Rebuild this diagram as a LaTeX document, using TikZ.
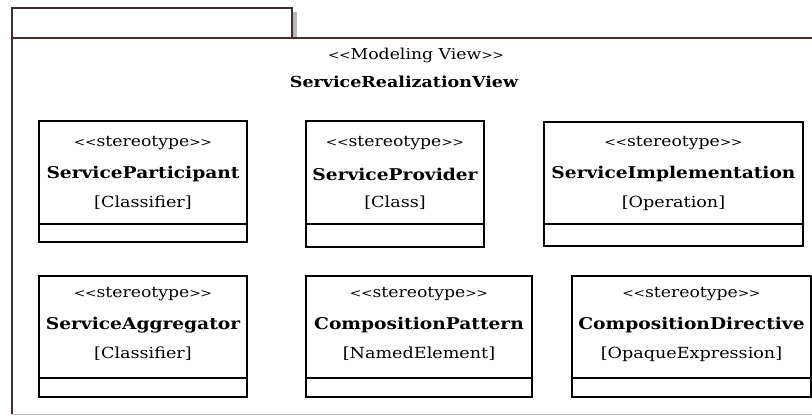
\documentclass[tikz,border=0pt]{standalone}
\usepackage{fontspec}
\setmainfont{DejaVu Serif}
\newfontfamily\labelfont[FakeStretch=1.15]{DejaVu Serif}
\definecolor{framec}{HTML}{4A2A2A}
\definecolor{framelow}{HTML}{C9B9B9}
\definecolor{shadowc}{HTML}{B8B8B8}
% guillemet-free double angle brackets
\newcommand{\openst}{{\fontsize{12}{12}\selectfont<\kern-0.5pt<}}
\newcommand{\closest}{{\fontsize{12}{12}\selectfont>\kern-0.5pt>}}
\begin{document}
\begin{tikzpicture}[x=1pt,y=-1pt,
  framestyle/.style={draw=framec,line width=1.4pt},
  classbox/.style={draw=black,line width=1.4pt},
  stereo/.style={font=\labelfont\fontsize{15}{17}\selectfont,inner sep=0pt},
  cname/.style={font=\labelfont\fontsize{16.2}{18}\bfseries\selectfont,inner sep=0pt},
  ctype/.style={font=\labelfont\fontsize{15.3}{17}\selectfont,inner sep=0pt}]
\useasboundingbox (0,0) rectangle (812,416);
% package tab with its shadow
\fill[shadowc] (293,12) rectangle (297,38);
\draw[framestyle] (12,38) -- (12,8) -- (292,8) -- (292,38);
% package body
\draw[framestyle] (812,38) -- (12,38) -- (12,414);
\draw[framelow,line width=1.2pt] (12,414.5) -- (812,414.5);
% package title
\node[stereo] (vst) at (416,55) {\openst Modeling View\closest};
\node[cname,font=\labelfont\fontsize{15.2}{17}\bfseries\selectfont] (vname) at (404,82) {ServiceRealizationView};
% stereotype box: #1 name, #2 left, #3 top, #4 right, #5 bottom, #6 divider,
% #7 first text line, #8 class name, #9 metaclass
\newcommand{\stbox}[9]{%
  \draw[classbox] (#2,#3) rectangle (#4,#5);
  \draw[classbox] (#2,#6) -- (#4,#6);
  \node[stereo] (#1-s) at ({(#2+#4)/2},#7) {\openst stereotype\closest};
  \node[cname] (#1-n) at ({(#2+#4)/2},#7+31) {#8};
  \node[ctype] (#1-t) at ({(#2+#4)/2},#7+60) {[#9]};
}
\stbox{sp}{39}{121}{247}{242}{224}{143}{ServiceParticipant}{Classifier}
\stbox{spr}{306}{121}{484}{247}{224}{143}{ServiceProvider}{Class}
\stbox{si}{544}{122}{803}{246}{224}{143}{ServiceImplementation}{Operation}
\stbox{sa}{39}{276}{247}{397}{378}{294}{ServiceAggregator}{Classifier}
\stbox{cp}{306}{276}{532}{397}{378}{294}{CompositionPattern}{NamedElement}
\stbox{cd}{572}{276}{811}{397}{378}{294}{CompositionDirective}{OpaqueExpression}
\end{tikzpicture}
\end{document}
